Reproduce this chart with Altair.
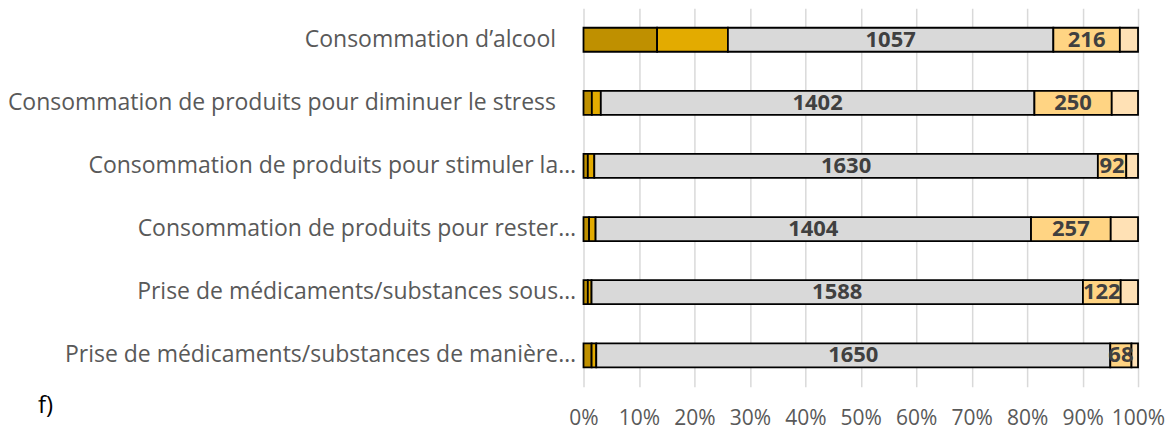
import altair as alt
import pandas as pd

categories = [
    "Consommation d’alcool",
    "Consommation de produits pour diminuer le stress",
    "Consommation de produits pour stimuler la…",
    "Consommation de produits pour rester…",
    "Prise de médicaments/substances sous…",
    "Prise de médicaments/substances de manière…",
]
series_names = ["Réponse 1", "Réponse 2", "Réponse 3", "Réponse 4", "Réponse 5"]
series_colors = ["#BF9000", "#E3AB00", "#D9D9D9", "#FFD483", "#FFE1B5"]

s1 = [239, 27, 14, 18, 14, 26]
s2 = [230, 29, 21, 21, 12, 15]
s3 = [1057, 1402, 1630, 1404, 1588, 1650]
s4 = [216, 250, 92, 257, 122, 68]
s5 = [59, 85, 38, 88, 56, 21]
labelled_series = ["Réponse 3", "Réponse 4"]

x_ticks = [i / 10 for i in range(11)]

rows = []
for si, (name, vals) in enumerate(zip(series_names, [s1, s2, s3, s4, s5])):
    for cat, v in zip(categories, vals):
        rows.append({"cat": cat, "serie": name, "ordre": si, "valeur": v})
df = pd.DataFrame(rows)

FONT = "Open Sans"
W, H = 555, 379

base = alt.Chart(df).transform_stack(
    stack="valeur", groupby=["cat"], sort=[alt.SortField("ordre")],
    as_=["v0", "v1"], offset="normalize"
)

y_enc = alt.Y(
    "cat:N", sort=categories, title=None,
    scale=alt.Scale(paddingInner=0.62, paddingOuter=0.31),
    axis=alt.Axis(labelFont=FONT, labelFontSize=23, labelColor="#595959",
                  labelLimit=1000, ticks=False, domain=False,
                  labelPadding={"condition": {"test": "indexof(datum.label, '…') >= 0", "value": 8},
                                "value": 28}),
)

bars = base.mark_bar(stroke="black", strokeWidth=1.8).encode(
    x=alt.X("v0:Q", scale=alt.Scale(domain=[0, 1]), title=None,
            axis=alt.Axis(format="%", values=x_ticks, labelFont=FONT,
                          labelFontSize=21, labelColor="#595959",
                          labelPadding=21, labelOverlap=False, labelFlush=False,
                          ticks=False, domain=False,
                          grid=True, gridColor="#D9D9D9", gridWidth=1.5)),
    x2="v1:Q",
    y=y_enc,
    color=alt.Color("serie:N", scale=alt.Scale(domain=series_names, range=series_colors), legend=None),
)

texts = base.transform_filter(
    alt.FieldOneOfPredicate(field="serie", oneOf=labelled_series)
).transform_calculate(
    mid="(datum.v0 + datum.v1) / 2"
).mark_text(font=FONT, fontSize=22, fontWeight="bold", color="#404040").encode(
    x="mid:Q",
    y=alt.Y("cat:N", sort=categories),
    text="valeur:Q",
)

flabel = alt.Chart(pd.DataFrame({"t": ["f)"]})).mark_text(
    font=FONT, fontSize=24, color="black", align="left", baseline="middle"
).encode(text="t:N", x=alt.value(-546), y=alt.value(398))

chart = alt.layer(bars, texts, flabel).properties(
    width=W, height=H,
    autosize=alt.AutoSizeParams(type="none"),
    padding={"left": 576, "top": 0, "right": 27, "bottom": 45},
).configure_view(strokeWidth=0)

chart.save("out.html", embed_options={"renderer": "svg", "actions": False})
